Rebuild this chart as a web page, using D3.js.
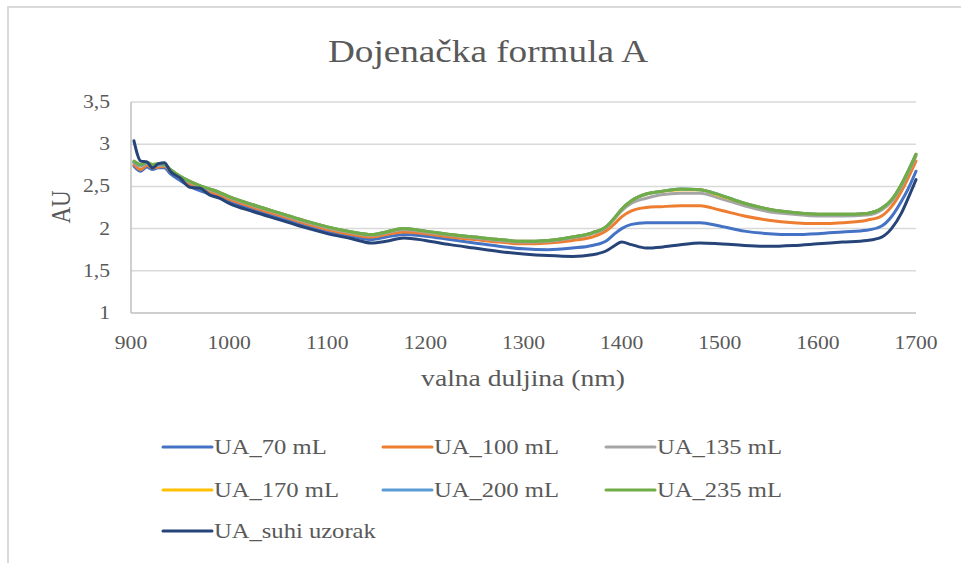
<!DOCTYPE html>
<html>
<head>
<meta charset="utf-8">
<script src="https://cdn.jsdelivr.net/npm/d3@7"></script>
<style>
  body { margin: 0; background: #fff; }
</style>
</head>
<body>
<svg id="chart" width="961" height="563" font-family="'Liberation Serif', 'DejaVu Serif', serif"></svg>
<script>
// wavelengths (nm)
var wl = [903, 910, 916, 922, 928, 934, 940, 950, 960, 970, 980, 990, 1000, 1025, 1050, 1075, 1100, 1125, 1145, 1160, 1178, 1200, 1225, 1250, 1275, 1300, 1325, 1350, 1370, 1385, 1393, 1400, 1410, 1425, 1440, 1460, 1480, 1500, 1525, 1550, 1575, 1600, 1625, 1650, 1665, 1675, 1685, 1692, 1700];

var ua70 = [2.74, 2.68, 2.73, 2.70, 2.72, 2.72, 2.65, 2.57, 2.50, 2.45, 2.41, 2.37, 2.32, 2.22, 2.13, 2.04, 1.96, 1.91, 1.87, 1.90, 1.93, 1.91, 1.87, 1.83, 1.79, 1.76, 1.75, 1.77, 1.80, 1.86, 1.94, 2.00, 2.05, 2.07, 2.07, 2.07, 2.07, 2.03, 1.97, 1.94, 1.93, 1.94, 1.96, 1.98, 2.03, 2.14, 2.32, 2.47, 2.68];
var ua100 = [2.76, 2.70, 2.75, 2.72, 2.73, 2.74, 2.68, 2.60, 2.53, 2.48, 2.44, 2.40, 2.35, 2.25, 2.16, 2.07, 1.99, 1.93, 1.90, 1.93, 1.96, 1.94, 1.90, 1.87, 1.84, 1.82, 1.83, 1.86, 1.90, 1.98, 2.06, 2.14, 2.21, 2.25, 2.26, 2.27, 2.27, 2.22, 2.15, 2.10, 2.07, 2.06, 2.07, 2.10, 2.15, 2.26, 2.44, 2.60, 2.80];
var ua135 = [2.78, 2.74, 2.77, 2.74, 2.75, 2.75, 2.69, 2.61, 2.55, 2.50, 2.46, 2.42, 2.37, 2.27, 2.18, 2.09, 2.01, 1.95, 1.92, 1.95, 1.99, 1.96, 1.92, 1.89, 1.86, 1.84, 1.85, 1.89, 1.94, 2.02, 2.12, 2.21, 2.30, 2.36, 2.40, 2.42, 2.42, 2.36, 2.27, 2.20, 2.17, 2.15, 2.15, 2.16, 2.22, 2.32, 2.50, 2.66, 2.86];
var ua170 = [2.79, 2.75, 2.78, 2.75, 2.76, 2.76, 2.70, 2.62, 2.56, 2.51, 2.47, 2.43, 2.38, 2.28, 2.19, 2.10, 2.02, 1.96, 1.93, 1.96, 2.00, 1.97, 1.93, 1.90, 1.87, 1.85, 1.86, 1.90, 1.95, 2.03, 2.13, 2.23, 2.33, 2.41, 2.44, 2.46, 2.46, 2.39, 2.30, 2.23, 2.19, 2.17, 2.17, 2.18, 2.24, 2.34, 2.52, 2.68, 2.88];
var ua200 = [2.79, 2.75, 2.78, 2.75, 2.76, 2.76, 2.70, 2.62, 2.56, 2.51, 2.47, 2.43, 2.38, 2.28, 2.19, 2.10, 2.02, 1.96, 1.93, 1.96, 2.00, 1.97, 1.93, 1.90, 1.87, 1.85, 1.86, 1.90, 1.95, 2.03, 2.13, 2.23, 2.33, 2.41, 2.44, 2.47, 2.46, 2.40, 2.30, 2.23, 2.19, 2.17, 2.17, 2.18, 2.24, 2.34, 2.52, 2.68, 2.88];
var ua235 = [2.80, 2.76, 2.79, 2.76, 2.77, 2.76, 2.70, 2.62, 2.56, 2.51, 2.47, 2.43, 2.38, 2.28, 2.19, 2.10, 2.02, 1.96, 1.93, 1.96, 2.00, 1.97, 1.93, 1.90, 1.87, 1.85, 1.86, 1.90, 1.95, 2.03, 2.13, 2.23, 2.33, 2.41, 2.44, 2.47, 2.46, 2.40, 2.30, 2.23, 2.19, 2.17, 2.17, 2.18, 2.24, 2.34, 2.52, 2.68, 2.88];
var uaSuhi = [3.04, 2.80, 2.79, 2.72, 2.77, 2.78, 2.68, 2.60, 2.49, 2.48, 2.40, 2.36, 2.30, 2.20, 2.11, 2.02, 1.94, 1.88, 1.83, 1.85, 1.89, 1.86, 1.81, 1.77, 1.73, 1.70, 1.68, 1.67, 1.69, 1.74, 1.80, 1.84, 1.81, 1.77, 1.78, 1.81, 1.83, 1.82, 1.80, 1.79, 1.80, 1.82, 1.84, 1.86, 1.90, 2.00, 2.18, 2.36, 2.58];

var seriesNames = ["UA_70 mL", "UA_100 mL", "UA_135 mL", "UA_170 mL", "UA_200 mL", "UA_235 mL", "UA_suhi uzorak"];
var seriesValues = [ua70, ua100, ua135, ua170, ua200, ua235, uaSuhi];
var colors = ["#4472C4", "#ED7D31", "#A5A5A5", "#FFC000", "#5B9BD5", "#70AD47", "#264478"];

var xTicks = [900, 1000, 1100, 1200, 1300, 1400, 1500, 1600, 1700];
var yTicks = [1, 1.5, 2, 2.5, 3, 3.5];

var svg = d3.select("#chart");
var textColor = "#595959";
var sx = 1.2; // text in the picture is a bit wider than the font

// frame
svg.append("path")
    .attr("d", "M8,563 L8,7 L961,7")
    .attr("fill", "none")
    .attr("stroke", "#d9d9d9")
    .attr("stroke-width", 2);

var x = d3.scaleLinear().domain([900, 1700]).range([131, 916]);
var y = d3.scaleLinear().domain([1, 3.5]).range([313, 102]);

var fmt = d3.formatLocale({decimal: ",", thousands: ".", grouping: [3], currency: ["", ""]}).format("~g");

function label(px, py, str, size, anchor) {
  return svg.append("text")
      .attr("transform", "translate(" + px + "," + py + ") scale(" + sx + ",1)")
      .attr("text-anchor", anchor)
      .attr("fill", textColor)
      .style("font-size", size + "px")
      .text(str);
}

// grid
svg.append("g").selectAll("line")
    .data(yTicks.slice(1))
  .enter().append("line")
    .attr("x1", x(900)).attr("x2", x(1700))
    .attr("y1", y).attr("y2", y)
    .attr("stroke", "#d9d9d9")
    .attr("stroke-width", 1.5);

// axes lines
svg.append("line")
    .attr("x1", x(900)).attr("x2", x(900))
    .attr("y1", y(1)).attr("y2", y(3.5))
    .attr("stroke", "#bfbfbf").attr("stroke-width", 1.5);
svg.append("line")
    .attr("x1", x(900)).attr("x2", x(1700))
    .attr("y1", y(1)).attr("y2", y(1))
    .attr("stroke", "#bfbfbf").attr("stroke-width", 1.5);

// tick labels
yTicks.forEach(function(d) { label(110, y(d) + 6, fmt(d), 18, "end"); });
xTicks.forEach(function(d) { label(x(d), 349, d, 18, "middle"); });

// titles
label(488, 62, "Dojenačka  formula A", 31, "middle");
label(523, 386, "valna duljina (nm)", 23, "middle");

svg.append("text")
    .attr("transform", "translate(70,207) scale(" + sx + ",1) rotate(-90)")
    .attr("text-anchor", "middle")
    .attr("fill", textColor)
    .style("font-size", "23px")
    .text("AU");

// lines
var line = d3.line()
    .x(function(d, i) { return x(wl[i]); })
    .y(function(d) { return y(d); })
    .curve(d3.curveMonotoneX);

svg.append("g").selectAll("path")
    .data(seriesValues)
  .enter().append("path")
    .attr("d", line)
    .attr("fill", "none")
    .attr("stroke", function(d, i) { return colors[i]; })
    .attr("stroke-width", 3)
    .attr("stroke-linejoin", "round")
    .attr("stroke-linecap", "round");

// legend
var legX = [163, 383, 606];
var legY = [447, 490, 531];
seriesNames.forEach(function(name, i) {
  var lx = legX[i % 3], ly = legY[Math.floor(i / 3)];
  svg.append("line")
      .attr("x1", lx).attr("x2", lx + 49)
      .attr("y1", ly).attr("y2", ly)
      .attr("stroke", colors[i])
      .attr("stroke-width", 3)
      .attr("stroke-linecap", "round");
  label(lx + 51, ly + 7, name, 20.5, "start");
});
</script>
</body>
</html>
